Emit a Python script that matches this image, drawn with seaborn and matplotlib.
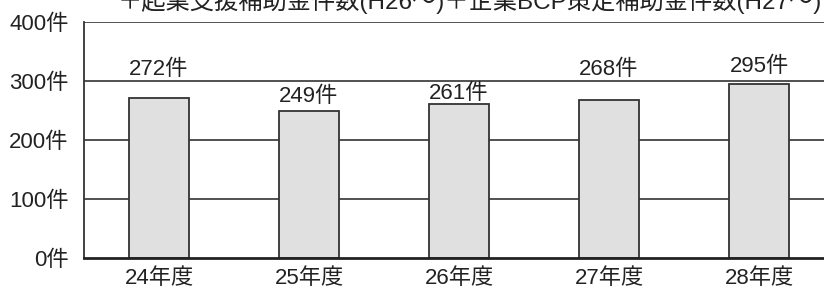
import matplotlib
matplotlib.use("Agg")
import matplotlib.pyplot as plt
import seaborn as sns
import pandas as pd

# === DATA
years = ["24年度", "25年度", "26年度", "27年度", "28年度"]
counts = [272, 249, 261, 268, 295]
label_y = [320, 273, 279, 319, 325]  # label centres (data units), as placed in the original
yticks = [0, 100, 200, 300, 400]
title = "＋起業支援補助金件数(H26～)＋企業BCP策定補助金件数(H27～)"

sns.set_style("white")
plt.rcParams["font.family"] = ["Liberation Sans", "Noto Sans CJK JP", "DejaVu Sans"]

FS = 16
TXT = "#222222"

df = pd.DataFrame({"year": years, "count": counts})

W, H = 824, 288
fig = plt.figure(figsize=(W / 100, H / 100), dpi=100)
ax = fig.add_axes([84 / W, 1 - 258 / H, 750 / W, 236 / H])

for v in yticks[1:]:
    ax.axhline(v, color="#333333", lw=1.2, zorder=0)

sns.barplot(data=df, x="year", y="count", width=0.4, color="#e0e0e0",
            edgecolor="#333333", linewidth=1.3, saturation=1, ax=ax, zorder=2)

for i, (c, ly) in enumerate(zip(counts, label_y)):
    ax.text(i, ly, f"{c}件", ha="center", va="center", fontsize=FS, color=TXT)

ax.set_xlim(-0.5, 4.5)
ax.set_ylim(0, 400)
ax.set_yticks(yticks)
ax.set_yticklabels([f"{v}件" for v in yticks], fontsize=FS, color=TXT)
ax.tick_params(axis="y", length=0, pad=11)
ax.tick_params(axis="x", length=0, pad=7, labelsize=FS, labelcolor=TXT)
ax.set_xticks([i + 0.5 for i in range(len(years) - 1)], minor=True)
ax.tick_params(axis="x", which="minor", direction="in", length=6, width=1.2, color="#333333")
ax.set_xlabel("")
ax.set_ylabel("")

for s in ["top", "right"]:
    ax.spines[s].set_visible(False)
ax.spines["left"].set_color("#333333")
ax.spines["left"].set_linewidth(1.3)
ax.spines["bottom"].set_color("#222222")
ax.spines["bottom"].set_linewidth(2)

# title sits partly above the top edge, as in the original
fig.text(118 / W, 1 - 9 / H, title, ha="left", va="baseline", fontsize=17.5, color=TXT)

fig.savefig("out.png", dpi=100)
